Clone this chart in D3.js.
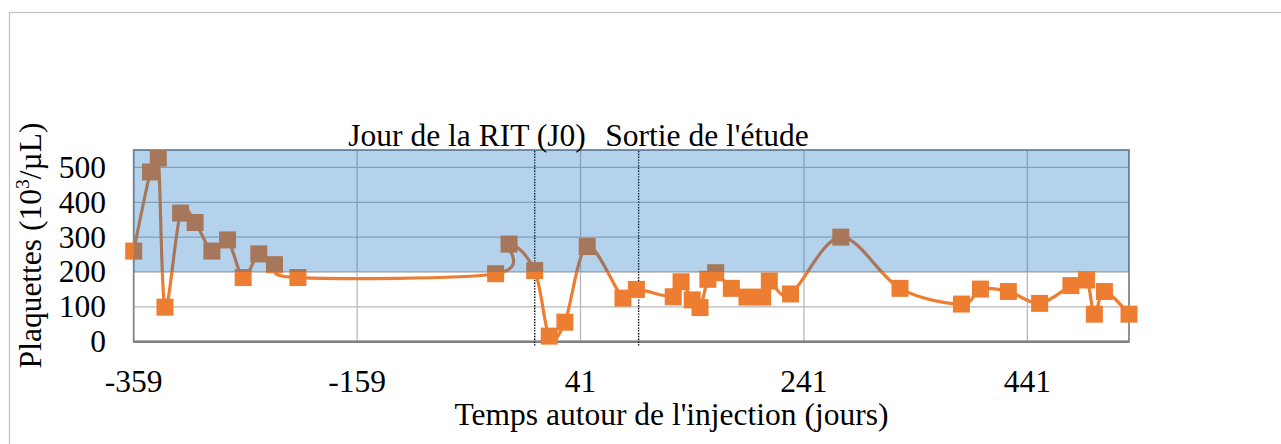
<!DOCTYPE html>
<html>
<head>
<meta charset="utf-8">
<script src="https://cdn.jsdelivr.net/npm/d3@7"></script>
<style>
  html, body { margin: 0; padding: 0; background: #fff; }
  svg { display: block; }
  text { font-family: "Liberation Serif", "Times New Roman", serif; fill: #000; }
</style>
</head>
<body>
<svg id="chart" width="1281" height="444"></svg>
<script>
// Platelet counts around the radio-iodine treatment day
const days = [-359, -344, -337, -331, -317, -304, -289, -275, -261, -247, -233, -212,
              -35, -23, 0, 13, 27, 47, 79, 91, 124, 131, 141, 148, 155, 162, 176, 190,
              204, 210, 229, 274, 327, 382, 399, 424, 452, 480, 494, 501, 510, 532];
const platelets = [260, 487, 527, 99, 369, 342, 260, 292, 184, 252, 221, 184,
                   195, 280, 204, 16, 56, 273, 125, 150, 129, 172, 120, 98, 179, 198, 153, 128,
                   128, 174, 137, 300, 153, 108, 151, 144, 110, 161, 177, 79, 144, 79];

const xTicks = [-359, -159, 41, 241, 441];
const yTicks = [0, 100, 200, 300, 400, 500];
const xDomain = [-359, 532];
const yDomain = [0, 550];

// Normal platelet range shown as a shaded band
const normalRange = [200, 550];

// Reference events (vertical dotted lines) and their captions
const eventDays = [0, 93];
const eventLabels = ["Jour de la RIT (J0)", "Sortie de l'étude"];

const xTitle = "Temps autour de l'injection (jours)";
const yTitleParts = ["Plaquettes (10", "3", "/µL)"];

// ---- layout ----
const W = 1281, H = 444;
const plot = { left: 133.7, right: 1129, top: 150, bottom: 341.7 };
const FONT = 31.5;
const ORANGE = "#ED7D31";

const svg = d3.select("#chart");

const x = d3.scaleLinear().domain(xDomain).range([plot.left, plot.right]);
const y = d3.scaleLinear().domain(yDomain).range([plot.bottom, plot.top]);

svg.append("defs").append("clipPath").attr("id", "plot-clip")
  .append("rect")
  .attr("x", plot.left).attr("y", plot.top)
  .attr("width", plot.right - plot.left).attr("height", plot.bottom - plot.top);

// outer chart frame
svg.append("rect")
  .attr("x", 9.5).attr("y", 12.5)
  .attr("width", W + 20).attr("height", H + 20)
  .attr("fill", "none").attr("stroke", "#c4c4c4").attr("stroke-width", 1.3);

// gridlines
const grid = svg.append("g");
grid.selectAll("line.h")
  .data(yTicks.filter(v => v > 0))
  .join("line")
  .attr("x1", plot.left).attr("x2", plot.right)
  .attr("y1", d => y(d)).attr("y2", d => y(d))
  .attr("stroke", "#b8b8b8").attr("stroke-width", 1.3);
grid.selectAll("line.v")
  .data(xTicks.filter(v => v > xDomain[0]))
  .join("line")
  .attr("x1", d => x(d)).attr("x2", d => x(d))
  .attr("y1", plot.top).attr("y2", plot.bottom)
  .attr("stroke", "#b8b8b8").attr("stroke-width", 1.3);

// plot area border
svg.append("rect")
  .attr("x", plot.left).attr("y", plot.top)
  .attr("width", plot.right - plot.left).attr("height", plot.bottom - plot.top)
  .attr("fill", "none").attr("stroke", "#858585").attr("stroke-width", 1.8);

// x axis line
svg.append("line")
  .attr("x1", plot.left).attr("x2", plot.right)
  .attr("y1", plot.bottom).attr("y2", plot.bottom)
  .attr("stroke", "#808080").attr("stroke-width", 2.4);

// event lines
svg.append("g").selectAll("line")
  .data(eventDays)
  .join("line")
  .attr("x1", d => x(d)).attr("x2", d => x(d))
  .attr("y1", plot.top + 1).attr("y2", plot.bottom + 4)
  .attr("stroke", "#000").attr("stroke-width", 1.4)
  .attr("stroke-dasharray", "1.4,1.4");

// series: smoothed line (clipped to the plot) with square markers
const pts = days.map((d, i) => [d, platelets[i]]);
const line = d3.line()
  .x(d => x(d[0])).y(d => y(d[1]))
  .curve(d3.curveCardinal.tension(0));

svg.append("path")
  .datum(pts)
  .attr("clip-path", "url(#plot-clip)")
  .attr("d", line)
  .attr("fill", "none")
  .attr("stroke", ORANGE)
  .attr("stroke-width", 3.2)
  .attr("stroke-linejoin", "round");

const MS = 17;
svg.append("g").selectAll("rect")
  .data(pts)
  .join("rect")
  .attr("x", d => x(d[0]) - MS / 2)
  .attr("y", d => y(d[1]) - MS / 2)
  .attr("width", MS).attr("height", MS)
  .attr("fill", ORANGE);

// translucent normal-range band laid over the plot
svg.append("rect")
  .attr("x", plot.left)
  .attr("y", y(normalRange[1]))
  .attr("width", plot.right - plot.left)
  .attr("height", y(normalRange[0]) - y(normalRange[1]))
  .attr("fill", "rgb(5,105,192)")
  .attr("fill-opacity", 0.3);

function label(parent, tx, ty, str, anchor) {
  return parent.append("text")
    .attr("x", tx).attr("y", ty)
    .attr("text-anchor", anchor)
    .attr("font-size", FONT)
    .text(str);
}

// y tick labels
const yl = svg.append("g");
yTicks.forEach(v => label(yl, 106, y(v) + 10.5, d3.format("d")(v), "end"));

// x tick labels
const xl = svg.append("g");
xTicks.forEach(v => label(xl, x(v), 392, d3.format("d")(v).replace("−", "-"), "middle"));

// axis titles
label(svg, 671.5, 425, xTitle, "middle");

const yt = svg.append("text")
  .attr("transform", "translate(41,245.5) rotate(-90)")
  .attr("text-anchor", "middle")
  .attr("font-size", FONT);
yt.append("tspan").text(yTitleParts[0]);
yt.append("tspan").attr("font-size", FONT * 0.62).attr("dy", -12).text(yTitleParts[1]);
yt.append("tspan").attr("dy", 12).text(yTitleParts[2]);

// event captions
label(svg, 467, 146, eventLabels[0], "middle");
label(svg, 707, 146, eventLabels[1], "middle");
</script>
</body>
</html>
